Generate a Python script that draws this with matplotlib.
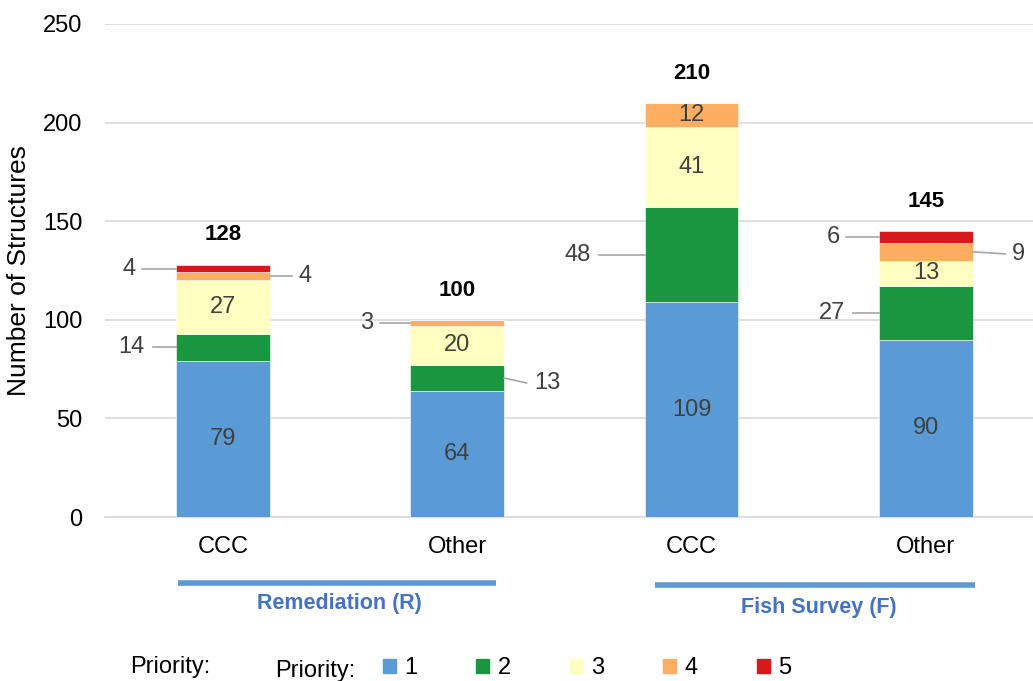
import matplotlib.pyplot as plt
import numpy as np

plt.rcParams['font.family'] = ['Liberation Sans', 'DejaVu Sans']

categories = ["CCC", "Other", "CCC", "Other"]
groups = ["Remediation (R)", "Fish Survey (F)"]
priorities = ["1", "2", "3", "4", "5"]
# counts per priority, one value per bar
p1 = [79, 64, 109, 90]
p2 = [14, 13, 48, 27]
p3 = [27, 20, 41, 13]
p4 = [4, 3, 12, 9]
p5 = [4, 0, 0, 6]
series = [p1, p2, p3, p4, p5]
colors = ["#5B9BD5", "#1A9641", "#FFFFC0", "#FDAE61", "#D7191C"]

label_col = "#404040"
lead_col = "#A6A6A6"

fig = plt.figure(figsize=(10.33, 6.81), dpi=100)
ax = fig.add_axes([0.1016, 0.2408, 0.8984, 0.724])

x = np.arange(len(categories))
width = 0.4
bottom = np.zeros(len(categories))
for vals, c in zip(series, colors):
    ax.bar(x, vals, width, bottom=bottom, color=c, edgecolor="white",
           linewidth=0.4, zorder=3)
    bottom += np.array(vals)
totals = bottom

# labels inside segments (large enough)
inside = {(0, 0), (0, 2), (1, 0), (1, 2), (2, 0), (2, 2), (2, 3),
          (3, 0), (3, 2)}
# outside labels with leader lines: (bar, priority) -> (text x offset, text y offset)
outside = {
    (0, 4): (-0.40, 0.0),
    (0, 3): (0.35, 0.0),
    (0, 1): (-0.39, 0.0),
    (1, 3): (-0.385, 0.0),
    (1, 1): (0.385, -2.5),
    (2, 1): (-0.487, 0.0),
    (3, 4): (-0.397, 0.0),
    (3, 3): (0.393, -1.1),
    (3, 1): (-0.40, 0.0),
}

for i in range(len(categories)):
    base = 0
    for j, vals in enumerate(series):
        v = vals[i]
        mid = base + v / 2
        if (i, j) in inside:
            ax.text(x[i], mid, str(v), ha="center", va="center",
                    fontsize=17, color=label_col, zorder=4)
        elif (i, j) in outside:
            dx, dy = outside[(i, j)]
            tx = x[i] + dx
            ty = mid + dy
            edge = x[i] + np.sign(dx) * width / 2
            gap = 0.055 if v < 10 else 0.09
            ax.plot([edge, tx - np.sign(dx) * gap], [mid, ty],
                    color=lead_col, lw=1.2, zorder=4)
            ax.text(tx, ty, str(v), ha="center", va="center",
                    fontsize=17, color=label_col, zorder=4)
        base += v

for xi, t in zip(x, totals):
    ax.text(xi, t + 15, f"{int(t)}", ha="center", va="center",
            fontsize=16, fontweight="bold", color="black")

ax.set_ylim(0, 250)
ax.set_xlim(-0.504, 3.457)
ax.set_yticks(np.arange(0, 251, 50))
ax.set_xticks(x)
ax.set_xticklabels(categories)
ax.tick_params(axis="both", length=0, labelsize=17, colors="black")
ax.tick_params(axis="x", pad=14)
ax.tick_params(axis="y", pad=16)
ax.yaxis.grid(True, color="#D9D9D9", linewidth=1.2, zorder=0)
ax.set_axisbelow(True)
for s in ["left", "right", "top"]:
    ax.spines[s].set_visible(False)
ax.spines["bottom"].set_color("#D9D9D9")
ax.spines["bottom"].set_linewidth(1.2)
ax.set_ylabel("Number of Structures", fontsize=19)
ax.yaxis.set_label_coords(-0.0797, 0.5)

# group brackets under the axis
grp_spans = [(-0.192, 1.167, -33.5, 0.496, -43.6),
             (1.842, 3.209, -34.5, 2.543, -46.1)]
for name, (x0, x1, ly, tx, ty) in zip(groups, grp_spans):
    ax.plot([x0, x1], [ly, ly], color="#5B9BD5", lw=4, clip_on=False,
            solid_capstyle="butt")
    ax.text(tx, ty, name, ha="center", va="center", fontsize=15.5,
            fontweight="bold", color="#4472C4", clip_on=False)

# legend
fig.text(170 / 1033, 1 - 667 / 681, "Priority:", ha="center", va="center",
         fontsize=17)
fig.text(275 / 1033, 1 - 671 / 681, "Priority:", ha="left", va="center",
         fontsize=17)
handles = [plt.Rectangle((0, 0), 1, 1, color=c) for c in colors]
fig.legend(handles, priorities, loc="center left",
           bbox_to_anchor=(383 / 1033, 1 - 668 / 681), ncol=5, frameon=False,
           fontsize=17, handlelength=0.55, handleheight=0.55,
           handletextpad=0.35, columnspacing=2.5, borderpad=0,
           borderaxespad=0)

fig.savefig("out.png", dpi=100)
